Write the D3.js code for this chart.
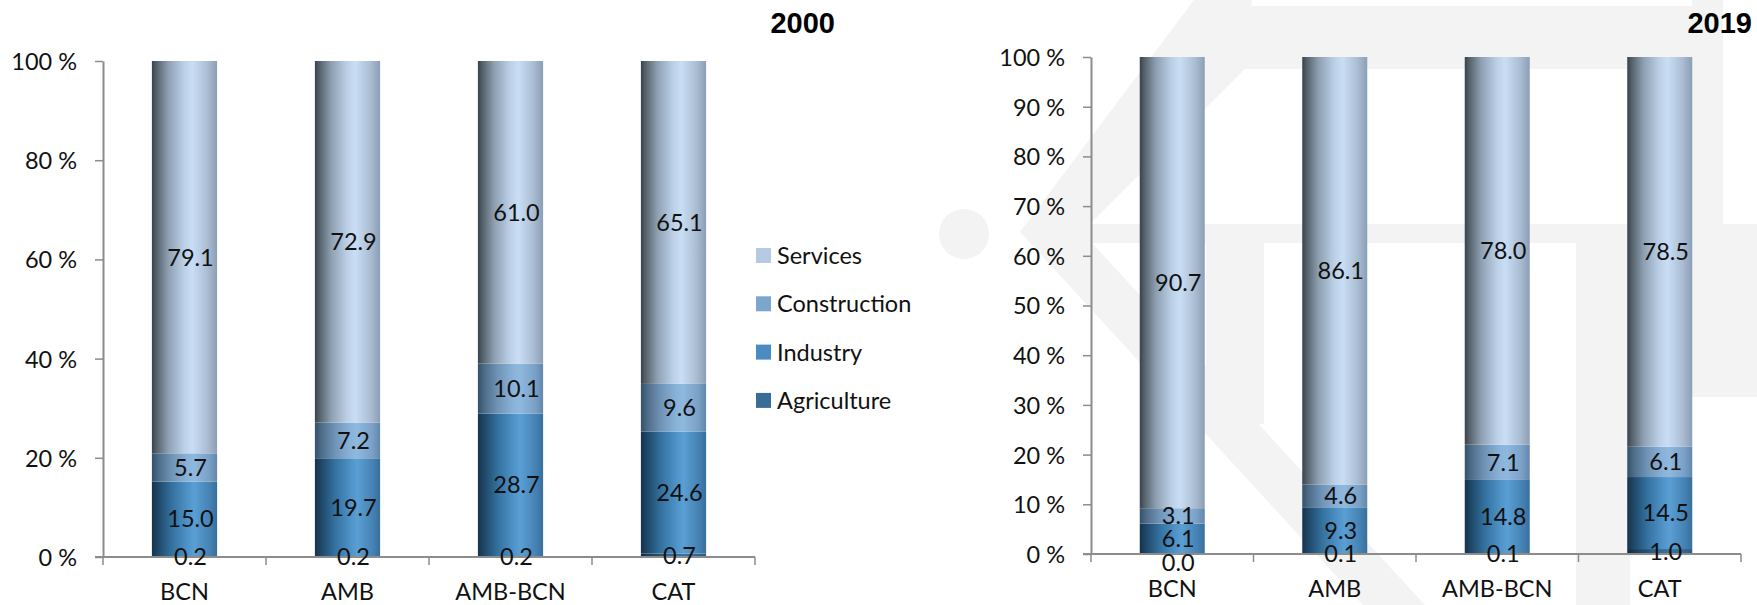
<!DOCTYPE html>
<html><head><meta charset="utf-8">
<script src="https://cdn.jsdelivr.net/npm/d3@7"></script>
<style>body{margin:0;background:#fff} svg{display:block}</style>
</head><body>
<svg id="c" width="1757" height="605"></svg>
<script>
// ---------- DATA ----------
const categories = ["BCN", "AMB", "AMB-BCN", "CAT"];
const sectors = ["Agriculture", "Industry", "Construction", "Services"];
const years = ["2000", "2019"];
const agriculture2000 = [0.2, 0.2, 0.2, 0.7];
const industry2000 = [15.0, 19.7, 28.7, 24.6];
const construction2000 = [5.7, 7.2, 10.1, 9.6];
const services2000 = [79.1, 72.9, 61.0, 65.1];
const agriculture2019 = [0.0, 0.1, 0.1, 1.0];
const industry2019 = [6.1, 9.3, 14.8, 14.5];
const construction2019 = [3.1, 4.6, 7.1, 6.1];
const services2019 = [90.7, 86.1, 78.0, 78.5];
const yTicks2000 = [0, 20, 40, 60, 80, 100];
const yTicks2019 = [0, 10, 20, 30, 40, 50, 60, 70, 80, 90, 100];

// ---------- STYLE ----------
const FONT = "Lato, 'Open Sans', sans-serif";
const FS = 23.5;
const legendColors = {Services: "#b6cbe3", Construction: "#7da6cd", Industry: "#4a8cc1", Agriculture: "#396d96"};
const gradStops = {
  Services: [[0, "#38424d"], [0.08, "#58656f"], [0.25, "#8e9fb2"], [0.5, "#bcd1e8"], [0.62, "#c9def5"], [0.85, "#aabdd3"], [1, "#8b9eb5"]],
  Construction: [[0, "#34506a"], [0.1, "#4d6c88"], [0.3, "#6f93b6"], [0.55, "#8bb3da"], [0.65, "#8fb8df"], [0.88, "#7aa0c6"], [1, "#6287ac"]],
  Industry: [[0, "#15334d"], [0.1, "#1f4868"], [0.3, "#33709e"], [0.55, "#4f93c8"], [0.65, "#5a9fd4"], [0.88, "#4683b5"], [1, "#386f9c"]],
  Agriculture: [[0, "#112a40"], [0.12, "#1b3d5a"], [0.4, "#2c5f88"], [0.65, "#3a73a0"], [1, "#2c5c84"]]
};

const svg = d3.select("#c");
const defs = svg.append("defs");
sectors.forEach(s => {
  const g = defs.append("linearGradient").attr("id", "g-" + s)
    .attr("x1", 0).attr("x2", 1).attr("y1", 0).attr("y2", 0);
  gradStops[s].forEach(([o, c]) => g.append("stop").attr("offset", o).attr("stop-color", c));
});

// ---------- WATERMARK (faint background logo) ----------
const wm = svg.append("g").attr("fill", "#f3f3f3");
wm.append("circle").attr("cx", 964).attr("cy", 234).attr("r", 25);
const wmPolys = [
  [[1020, 232], [1194, 0], [1252, 0], [1245, 69], [1082, 232]],
  [[1020, 232], [1082, 232], [1425, 605], [1363, 605]],
  [[1240, 6], [1692, 6], [1692, 69], [1240, 69]],
  [[1040, 224], [1692, 224], [1692, 243], [1040, 243]],
  [[1692, 0], [1723, 0], [1723, 397], [1692, 397]],
  [[1723, 224], [1757, 224], [1757, 397], [1723, 397]],
  [[1576, 243], [1630, 243], [1630, 605], [1576, 605]],
  [[1206, 243], [1264, 243], [1264, 424], [1206, 424]]
];
wmPolys.forEach(p => wm.append("polygon").attr("points", p.map(q => q.join(",")).join(" ")));

// ---------- PANELS ----------
const panels = [
  {year: "2000", vals: [agriculture2000, industry2000, construction2000, services2000], ticks: yTicks2000,
   x0: 103, x1: 755, yTop: 61, yBot: 557, titleRight: 835},
  {year: "2019", vals: [agriculture2019, industry2019, construction2019, services2019], ticks: yTicks2019,
   x0: 1091, x1: 1741, yTop: 57, yBot: 554, titleRight: 1752}
];

panels.forEach(P => {
  const rows = categories.map((c, i) => {
    const r = {cat: c};
    sectors.forEach((s, k) => r[s] = P.vals[k][i]);
    return r;
  });
  const stack = d3.stack().keys(sectors).offset(d3.stackOffsetExpand)(rows);
  const x = d3.scaleBand().domain(categories).range([P.x0, P.x1]).paddingInner(0.6).paddingOuter(0.3);
  const y = d3.scaleLinear().domain([0, 1]).range([P.yBot, P.yTop]);
  const g = svg.append("g");

  // y axis
  const ya = g.append("g").attr("transform", `translate(${P.x0},0)`)
    .call(d3.axisLeft(y).tickValues(P.ticks.map(t => t / 100)).tickSize(8).tickSizeOuter(0).tickPadding(18)
      .tickFormat(d => Math.round(d * 100) + " %"));
  ya.select(".domain").attr("stroke", "#8c8c8c").attr("stroke-width", 2);
  ya.selectAll(".tick line").attr("stroke", "#8c8c8c").attr("stroke-width", 1.5);
  ya.selectAll(".tick text").attr("font-family", FONT).attr("font-size", FS).attr("fill", "#111").attr("dy", 8.4);

  // bars
  stack.forEach(layer => {
    g.append("g").selectAll("rect").data(layer).join("rect")
      .attr("x", d => x(d.data.cat))
      .attr("width", x.bandwidth())
      .attr("y", d => y(d[1]))
      .attr("height", d => Math.max(0, y(d[0]) - y(d[1])))
      .attr("fill", `url(#g-${layer.key})`);
  });

  // x axis
  g.append("line").attr("x1", P.x0 - 8).attr("x2", P.x1).attr("y1", P.yBot).attr("y2", P.yBot)
    .attr("stroke", "#8c8c8c").attr("stroke-width", 2);
  const bounds = d3.range(categories.length + 1).map(i => P.x0 + i * x.step());
  g.append("g").selectAll("line").data(bounds).join("line")
    .attr("x1", d => d).attr("x2", d => d).attr("y1", P.yBot).attr("y2", P.yBot + 8)
    .attr("stroke", "#8c8c8c").attr("stroke-width", 1.5);
  g.append("g").selectAll("text").data(categories).join("text")
    .attr("x", d => x(d) + x.bandwidth() / 2).attr("y", P.yBot + 42.5)
    .attr("text-anchor", "middle").attr("font-family", FONT).attr("font-size", FS).attr("fill", "#111")
    .text(d => d);

  // data labels
  categories.forEach((c, i) => {
    const labs = stack.map(layer => ({v: layer[i].data[layer.key], y: y((layer[i][0] + layer[i][1]) / 2)}));
    for (let k = labs.length - 2; k >= 0; k--) {
      if (labs[k].y - labs[k + 1].y < 20) labs[k].y = labs[k + 1].y + 24;
    }
    g.append("g").selectAll("text").data(labs).join("text")
      .attr("x", x(c) + x.bandwidth() / 2 + 6).attr("y", d => d.y + 8.4)
      .attr("text-anchor", "middle").attr("font-family", FONT).attr("font-size", FS).attr("fill", "#111")
      .text(d => d.v.toFixed(1));
  });

  // title
  svg.append("text").attr("x", P.titleRight).attr("y", 33).attr("text-anchor", "end")
    .attr("font-family", "'Liberation Sans', Arial, sans-serif").attr("font-weight", "bold").attr("font-size", 29)
    .attr("fill", "#000").text(P.year);
});

// ---------- LEGEND ----------
const legendOrder = sectors.slice().reverse();
const lg = svg.append("g");
legendOrder.forEach((s, i) => {
  const cy = 255.5 + i * 48.3;
  lg.append("rect").attr("x", 756).attr("y", cy - 7.5).attr("width", 15).attr("height", 15).attr("fill", legendColors[s]);
  lg.append("text").attr("x", 777).attr("y", cy + 8.4).attr("font-family", FONT).attr("font-size", FS)
    .attr("fill", "#111").text(s);
});
</script>
</body></html>
